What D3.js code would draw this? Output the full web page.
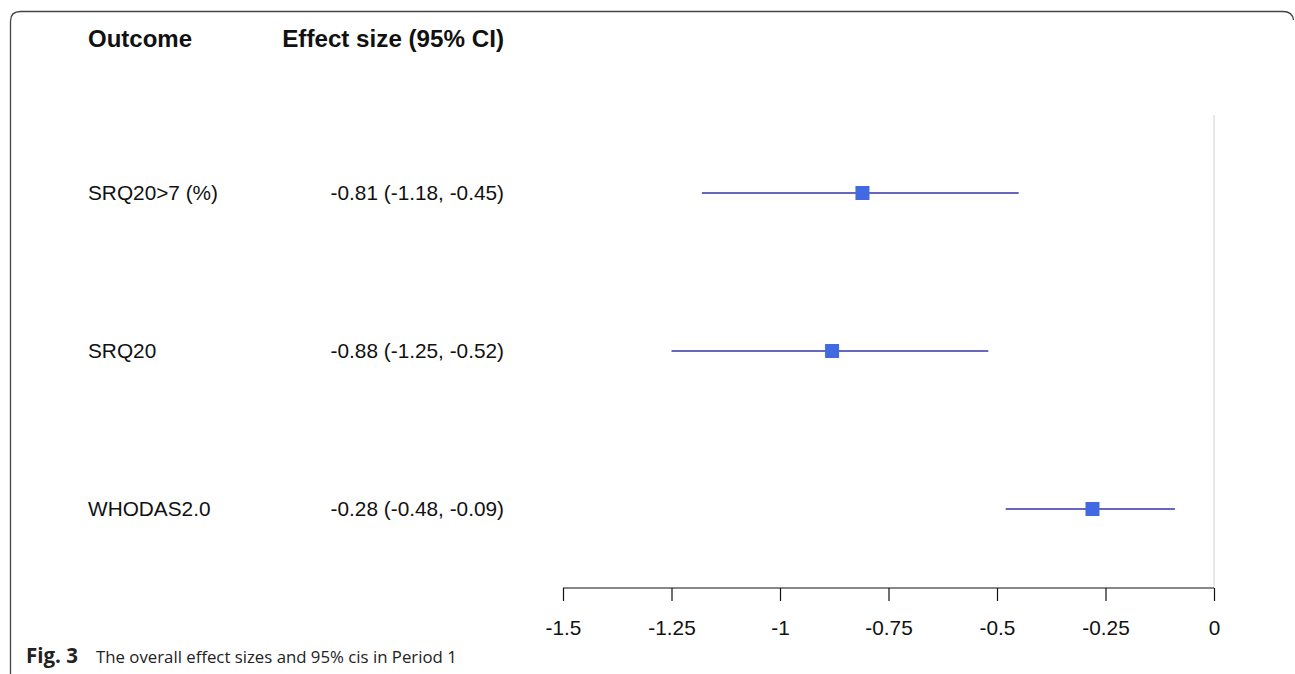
<!DOCTYPE html>
<html>
<head>
<meta charset="utf-8">
<script src="https://cdn.jsdelivr.net/npm/d3@7/dist/d3.min.js"></script>
<style>
  html, body { margin: 0; padding: 0; background: #fff; }
  svg { display: block; }
</style>
</head>
<body>
<svg id="chart" width="1295" height="674"></svg>
<script>
// ---- data ----
const outcomes = ["SRQ20>7 (%)", "SRQ20", "WHODAS2.0"];
const estimates = [-0.81, -0.88, -0.28];
const lower = [-1.18, -1.25, -0.48];
const upper = [-0.45, -0.52, -0.09];
const effectLabels = ["-0.81 (-1.18, -0.45)", "-0.88 (-1.25, -0.52)", "-0.28 (-0.48, -0.09)"];
const tickValues = [-1.5, -1.25, -1, -0.75, -0.5, -0.25, 0];
const tickLabels = ["-1.5", "-1.25", "-1", "-0.75", "-0.5", "-0.25", "0"];
const headers = ["Outcome", "Effect size (95% CI)"];
const caption = { bold: "Fig. 3", text: "The overall effect sizes and 95% cis in Period 1" };

const svg = d3.select("#chart");
const font = "'Liberation Sans', Arial, sans-serif";

// frame
svg.append("path")
  .attr("d", "M10.5,674 L10.5,21 Q10.5,11.5 20.5,11.5 L1283,11.5 Q1292.5,11.5 1293.5,20")
  .attr("fill", "none").attr("stroke", "#444").attr("stroke-width", 1.3);

const x = d3.scaleLinear().domain([-1.5, 0]).range([563, 1214]);
const y = d3.scalePoint().domain(outcomes).range([193, 509]);
const axisY = 588;

// zero line
svg.append("line")
  .attr("x1", x(0)).attr("x2", x(0))
  .attr("y1", 115).attr("y2", axisY)
  .attr("stroke", "#d3d3d3").attr("stroke-width", 1);

// headers
svg.append("text").attr("x", 88).attr("y", 47)
  .attr("font-family", font).attr("font-weight", "bold").attr("font-size", 24)
  .attr("fill", "#111").text(headers[0]);
svg.append("text").attr("x", 504).attr("y", 47).attr("text-anchor", "end")
  .attr("font-family", font).attr("font-weight", "bold").attr("font-size", 24.2)
  .attr("fill", "#111").text(headers[1]);

// row labels
const rows = svg.append("g");
outcomes.forEach((o, i) => {
  const yy = y(o);
  rows.append("text").attr("x", 88).attr("y", yy + 7)
    .attr("font-family", font).attr("font-size", 20.8).attr("fill", "#111").text(o);
  rows.append("text").attr("x", 504).attr("y", yy + 7).attr("text-anchor", "end")
    .attr("font-family", font).attr("font-size", 20.8).attr("fill", "#111").text(effectLabels[i]);
  rows.append("line")
    .attr("x1", x(lower[i])).attr("x2", x(upper[i]))
    .attr("y1", yy).attr("y2", yy)
    .attr("stroke", "#3535a8").attr("stroke-width", 1.7);
  const s = 14;
  rows.append("rect")
    .attr("x", x(estimates[i]) - s / 2).attr("y", yy - s / 2)
    .attr("width", s).attr("height", s)
    .attr("fill", "#4169E1");
});

// axis
const axis = d3.axisBottom(x).tickValues(tickValues)
  .tickFormat((d, i) => tickLabels[i]).tickSize(13).tickPadding(19);
const ag = svg.append("g").attr("transform", `translate(0,${axisY})`).call(axis);
ag.select(".domain").attr("stroke", "#111").attr("stroke-width", 1.2)
  .attr("d", `M${x(-1.5)},0H${x(0)}`);
ag.selectAll(".tick line").attr("stroke", "#111").attr("stroke-width", 1.2);
ag.selectAll(".tick text").attr("font-family", font).attr("font-size", 20.8)
  .attr("fill", "#111");

// caption
const cap = svg.append("text").attr("x", 26).attr("y", 663)
  .attr("font-family", "'Open Sans', 'Noto Sans', sans-serif").attr("font-size", 16.8).attr("fill", "#222");
cap.append("tspan").attr("font-weight", "bold").attr("font-size", 20.5).text(caption.bold);
cap.append("tspan").attr("x", 96).text(caption.text);
</script>
</body>
</html>
